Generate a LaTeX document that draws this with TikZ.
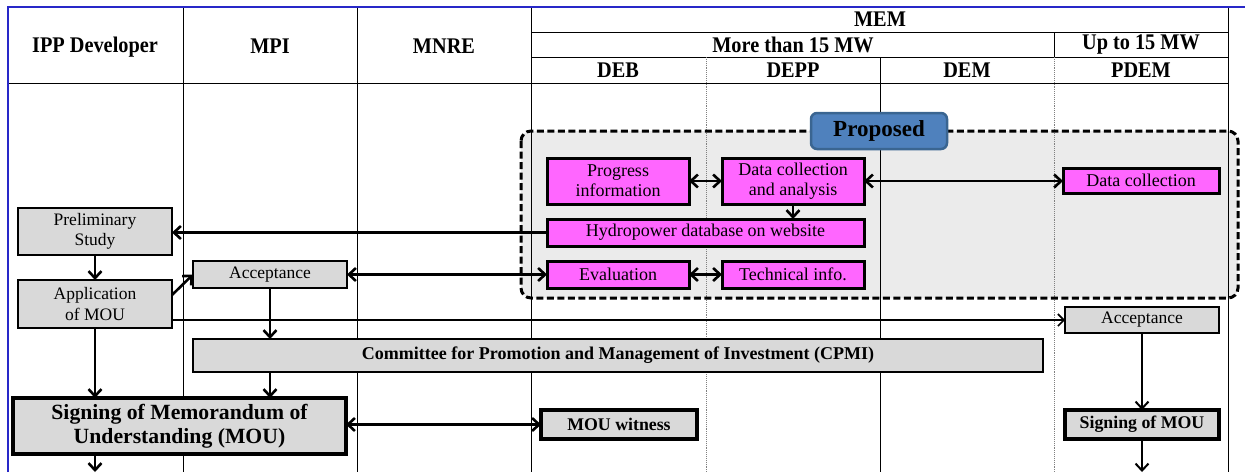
\documentclass[tikz,border=0pt]{standalone}
\usepackage{fontspec}
\setmainfont{LiberationSerif}[Extension=.ttf, UprightFont=*-Regular, BoldFont=*-Bold, ItalicFont=*-Italic, BoldItalicFont=*-BoldItalic]
\usetikzlibrary{arrows.meta,positioning}

\definecolor{boxgray}{HTML}{D9D9D9}
\definecolor{regiongray}{HTML}{EBEBEB}
\definecolor{pink}{HTML}{FF66FF}
\definecolor{tagblue}{HTML}{4F81BD}
\definecolor{tagedge}{HTML}{3A6591}
\definecolor{framblue}{HTML}{2828C8}

% slightly tall lettering for the column headings
\newcommand{\tallhd}[1]{\scalebox{1}[1.1]{#1}}

\tikzset{
  every node/.style={inner sep=0pt, outer sep=0pt},
  graybox/.style={draw, fill=boxgray, line width=1.4pt, align=center,
    font=\fontsize{17.5}{20.5}\selectfont},
  boldbox/.style={draw, fill=boxgray, line width=3.2pt, align=center,
    font=\bfseries\fontsize{17.8}{20}\selectfont},
  pinkbox/.style={draw, fill=pink, line width=3pt, align=center,
    font=\fontsize{18}{20}\selectfont},
  hdr/.style={font=\bfseries\fontsize{20.3}{22}\selectfont},
  gridline/.style={line width=0.9pt},
  dotline/.style={line width=0.9pt, gray, densely dotted},
  arr/.style={line width=2.6pt, -{Straight Barb[length=7pt,width=13pt,line width=2.6pt]}},
  darr/.style={line width=2.6pt, {Straight Barb[length=7pt,width=13pt,line width=2.6pt]}-{Straight Barb[length=7pt,width=13pt,line width=2.6pt]}},
  thinarr/.style={line width=1.6pt, -{Straight Barb[length=6pt,width=12pt,line width=1.6pt]}},
  midarr/.style={line width=2pt, -{Straight Barb[length=7pt,width=13pt,line width=2pt]}},
}

\begin{document}
\begin{tikzpicture}[x=1pt,y=-1pt]
\useasboundingbox (0,0) rectangle (1246,472);

% shaded area of the proposed procedure
\fill[regiongray, rounded corners=10pt] (521,131) rectangle (1238,298);

% table grid
\draw[gridline] (8,83) -- (1228,83);
\draw[gridline] (531,32) -- (1228,32);
\draw[gridline] (531,57) -- (1228,57);
\draw[gridline] (183,7) -- (183,472);
\draw[gridline] (357,7) -- (357,472);
\draw[gridline] (531,7) -- (531,472);
\draw[gridline] (880,57) -- (880,472);
\draw[gridline] (1054,32) -- (1054,57);
\draw[dotline] (706,57) -- (706,472);
\draw[dotline] (1054,57) -- (1054,472);
\draw[gridline] (1228,7) -- (1228,472);
\draw[framblue, line width=1.4pt] (8,472) -- (8,7) -- (1245,7);

% column headings
\node[hdr] (hipp) at (95,47.5) {\tallhd{IPP Developer}};
\node[hdr] (hmpi) at (270,46.5) {\tallhd{MPI}};
\node[hdr] (hmnre) at (444,46.5) {\tallhd{MNRE}};
\node[hdr] (hmem) at (880,19) {\tallhd{MEM}};
\node[hdr] (hmore) at (793,45) {\tallhd{More than 15 MW}};
\node[hdr] (hup) at (1141,45) {\tallhd{Up to 15 MW}};
\node[hdr] (hdeb) at (618,70.5) {\tallhd{DEB}};
\node[hdr] (hdepp) at (793,70.5) {\tallhd{DEPP}};
\node[hdr] (hdem) at (967,70.5) {\tallhd{DEM}};
\node[hdr] (hpdem) at (1141,70.5) {\tallhd{PDEM}};

% dashed outline of the proposed procedure
\draw[line width=3pt, dash pattern=on 7pt off 3.5pt, rounded corners=10pt]
  (521,131) rectangle (1238,298);

% proposed tasks
\node[pinkbox, minimum width=142pt, minimum height=46pt] (prog) at (618,181) {Progress\\information};
\node[pinkbox, minimum width=142pt, minimum height=46pt] (dca) at (793,181) {Data collection\\and analysis};
\node[pinkbox, minimum width=156pt, minimum height=25pt] (dcp) at (1141,180.5) {Data collection};
\node[pinkbox, minimum width=317pt, minimum height=27pt] (hydro) at (705.5,232.5) {Hydropower database on website};
\node[pinkbox, minimum width=142pt, minimum height=27pt] (eval) at (618,274.5) {Evaluation};
\node[pinkbox, minimum width=142pt, minimum height=27pt] (tech) at (793,274.5) {Technical info.};

\node[draw=tagedge, fill=tagblue, line width=2.5pt, rounded corners=6pt,
  minimum width=136pt, minimum height=36pt,
  font=\bfseries\fontsize{23}{26}\selectfont] (prop) at (879,131) {Proposed};

% existing procedure
\node[graybox, minimum width=154pt, minimum height=47pt] (prelim) at (95,231.5) {Preliminary\\Study};
\node[graybox, minimum width=154pt, minimum height=48pt] (app) at (95,304) {Application\\of MOU};
\node[graybox, minimum width=154pt, minimum height=27pt] (accm) at (270,274.5) {Acceptance};
\node[graybox, minimum width=154pt, minimum height=26pt] (accp) at (1142,320) {Acceptance};
\node[boldbox, line width=1.6pt, minimum width=850pt, minimum height=33pt,
  font=\bfseries\fontsize{18}{20}\selectfont] (cpmi) at (618,355.5)
  {Committee for Promotion and Management of Investment (CPMI)};
\node[boldbox, line width=3.6pt, minimum width=333pt, minimum height=56pt,
  font=\bfseries\fontsize{21.7}{24}\selectfont] (sign) at (179.5,426)
  {Signing of Memorandum of\\Understanding (MOU)};
\node[boldbox, minimum width=156pt, minimum height=29pt] (wit) at (619,424.5) {MOU witness};
\node[boldbox, minimum width=154pt, minimum height=29pt] (signp) at (1142,424.5) {Signing of MOU};

\coordinate (out1) at (95,472);
\coordinate (out2) at (1142,472);

% connectors
\draw[darr] (prog.east) -- (dca.west);
\draw[darr] (dca.east) -- (dcp.west |- dca.east);
\draw[arr] (dca.south) -- (dca.south |- hydro.north);
\draw[arr] (hydro.west) -- (prelim.east |- hydro.west);
\draw[darr] (eval.east) -- (tech.west);
\draw[darr] (accm.east) -- (eval.west);
\draw[arr] (prelim.south) -- (app.north);
\draw[arr] ([yshift=9pt]app.east) -- (accm.west);
\draw[thinarr] (app.east |- accp.west) -- (accp.west);
\draw[arr] (accm.south) -- (accm.south |- cpmi.north);
\draw[arr] (app.south) -- (app.south |- sign.north);
\draw[arr] (accm.south |- cpmi.south) -- (accm.south |- sign.north);
\draw[darr] (sign.east |- wit.west) -- (wit.west);
\draw[midarr] (accp.south) -- (signp.north);
\draw[arr] (app.south |- sign.south) -- (out1);
\draw[midarr] (signp.south) -- (out2);
\end{tikzpicture}
\end{document}
